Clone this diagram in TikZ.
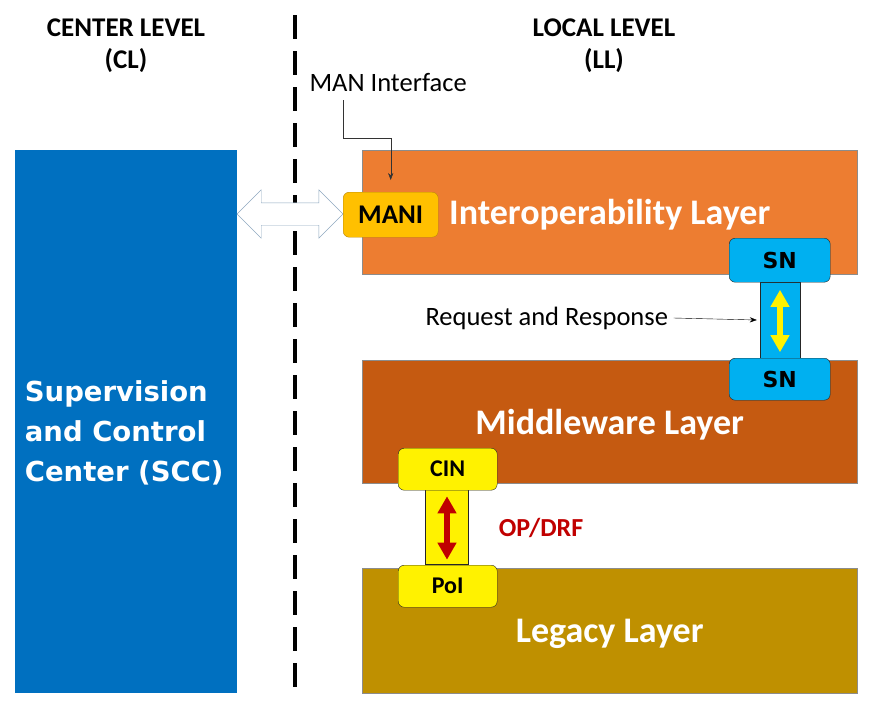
\documentclass[tikz,border=0pt]{standalone}
\usepackage{fontspec}
\setmainfont{Carlito}
\newfontfamily\widefont{DejaVu Sans}
\usetikzlibrary{
  arrows.meta,
  shapes.arrows
}
\definecolor{sccblue}{HTML}{0070C0}
\definecolor{interorange}{HTML}{ED7D31}
\definecolor{midbrown}{HTML}{C55A11}
\definecolor{legacygold}{HTML}{BF9000}
\definecolor{maniyellow}{HTML}{FFC000}
\definecolor{maniedge}{HTML}{B8860B}
\definecolor{snblue}{HTML}{00B0F0}
\definecolor{opred}{HTML}{C00000}
\definecolor{linkedge}{HTML}{8FA8C0}

\begin{document}
\begin{tikzpicture}[
  x=1pt, y=-1pt,
  head/.style = {align=center, font=\fontsize{27}{32}\selectfont\bfseries},
  note/.style = {anchor=west, font=\fontsize{26.5}{28}\selectfont},
  layer/.style = {draw=black!45, inner sep=0pt, anchor=north west,
    minimum width=495pt, text=white, text depth=0pt,
    font=\fontsize{36}{38}\selectfont\bfseries},
  tag/.style = {draw=black!85, rounded corners=6pt, inner sep=0pt,
    anchor=north west, minimum width=99pt, minimum height=42pt,
    font=\fontsize{24}{26}\selectfont\bfseries},
  bar/.style = {draw=black!85, inner sep=0pt, minimum width=42pt,
    minimum height=76pt}]
  \useasboundingbox (0,0) rectangle (873,710);

  % level headings and divider
  \node[head] (cl) at (126,46) {CENTER LEVEL\\(CL)};
  \node[head] (ll) at (604,46) {LOCAL LEVEL\\(LL)};
  \coordinate (divtop) at (295,15);
  \coordinate (divbot) at (295,695);
  \draw[line width=4pt, dash pattern=on 24pt off 12pt] (divtop) -- (divbot);

  % center level
  \node[layer, draw=none, fill=sccblue, minimum width=222pt,
    minimum height=543pt] (scc) at (15,150) {};
  \node[align=left, text=white, xshift=-2pt, yshift=-11pt,
    font=\fontsize{27.5}{40}\selectfont\widefont\bfseries]
    (scclabel) at (scc.center) {Supervision\\and Control\\Center (SCC)};

  % local level layers
  \node[layer, fill=interorange, minimum height=124pt] (inter) at (362,150)
    {Interoperability Layer};
  \node[layer, fill=midbrown, minimum height=123pt] (mid) at (362,360)
    {Middleware Layer};
  \node[layer, fill=legacygold, minimum height=125pt] (legacy) at (362,568)
    {Legacy Layer};

  % links between layers
  \node[bar, fill=snblue, minimum width=40pt] (snlink) at (780,320) {};
  \node[bar, fill=yellow, minimum width=43pt, minimum height=75pt]
    (cinlink) at (447,527) {};

  \node[tag, fill=maniyellow, draw=maniedge, minimum width=95pt,
    minimum height=45pt, font=\fontsize{27}{28}\selectfont\bfseries]
    (mani) at (343,192) {MANI};
  \node[tag, fill=snblue, minimum width=101pt, minimum height=44pt,
    font=\fontsize{22}{24}\selectfont\widefont\bfseries] (sntop) at (729,238) {SN};
  \node[tag, fill=snblue, minimum width=101pt,
    font=\fontsize{22}{24}\selectfont\widefont\bfseries] (snbot) at (729,358) {SN};
  \node[tag, fill=yellow] (cin) at (398,448) {CIN};
  \node[tag, fill=yellow] (poi) at (398,565) {PoI};

  \draw[yellow, line width=6pt, shorten <=8pt, shorten >=6pt,
    {Triangle[length=17pt,width=18pt]}-{Triangle[length=17pt,width=18pt]}]
    (snlink.north) -- (snlink.south);
  \draw[opred, line width=5.5pt, shorten <=7pt, shorten >=5pt,
    {Triangle[length=17pt,width=18pt]}-{Triangle[length=17pt,width=18pt]}]
    (cinlink.north) -- (cinlink.south);

  \node[text=opred, font=\fontsize{26}{28}\selectfont\bfseries] (op) at (541,528)
    {OP/DRF};

  % MAN link to the center
  \node[double arrow, draw=linkedge, fill=white, inner xsep=0pt, inner ysep=11pt,
    minimum height=106pt, double arrow head extend=13pt]
    (link) at (290,214) {};

  % annotations
  \node[note] (man) at (306,83) {MAN Interface};
  \draw[black!80, -{Stealth[length=7pt]}] (343,100)
    |- ([yshift=54pt]mani.north) -- ([yshift=12pt]mani.north);
  \node[note] (req) at (422,318) {Request and Response};
  \draw[-{Stealth[length=7pt]}] ([xshift=2pt]req.east) -- ([xshift=-3pt]snlink.west);
\end{tikzpicture}
\end{document}
